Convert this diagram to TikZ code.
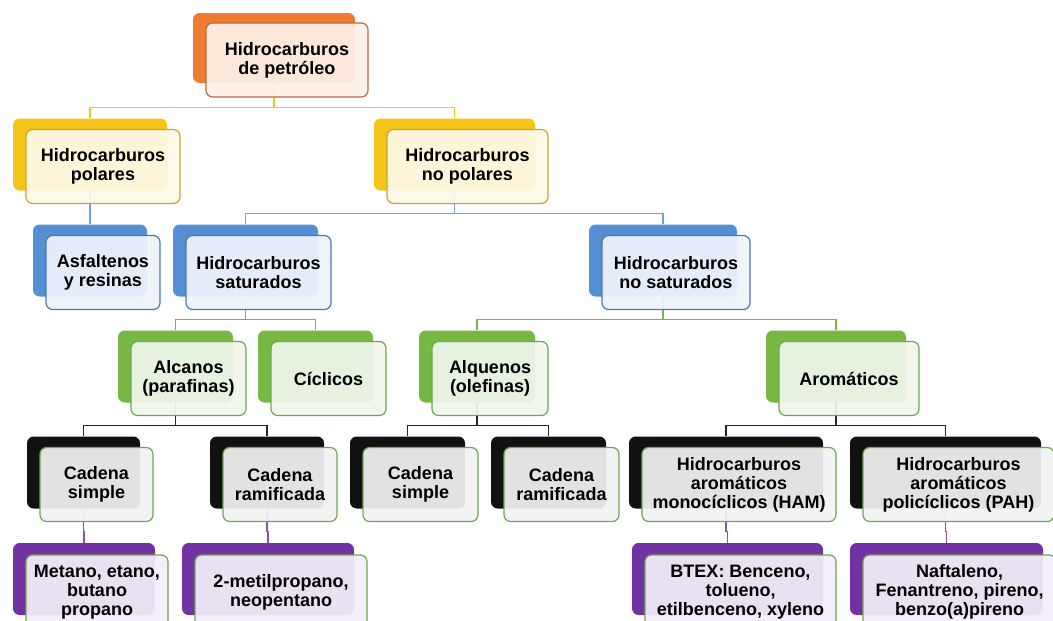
\documentclass[tikz,border=0pt]{standalone}
\usepackage{fontspec}
\setmainfont{Liberation Sans}
\usepackage{xcolor}
\usepackage{tikz}
\usetikzlibrary{positioning,calc,backgrounds}

\definecolor{naranja}{HTML}{EF7D31}
\definecolor{naranjaB}{HTML}{B56C3E}
\definecolor{naranjaC}{HTML}{FDF0E8}
\definecolor{oro}{HTML}{F6C51A}
\definecolor{oroB}{HTML}{C9A335}
\definecolor{oroC}{HTML}{FEF9E6}
\definecolor{azul}{HTML}{5690D4}
\definecolor{azulB}{HTML}{4A79AE}
\definecolor{azulC}{HTML}{EEF4FB}
\definecolor{verde}{HTML}{77B845}
\definecolor{verdeB}{HTML}{6CA94E}
\definecolor{verdeC}{HTML}{F0F6EB}
\definecolor{negro}{HTML}{111111}
\definecolor{grisC}{HTML}{F2F2F2}
\definecolor{morado}{HTML}{7332A4}
\definecolor{moradoC}{HTML}{F3EEF7}

\begin{document}
\begin{tikzpicture}[x=0.75pt, y=-0.75pt,
  bk/.style={rounded corners=5pt, minimum height=54pt, inner sep=0pt},
  fr/.style={rounded corners=5pt, minimum height=55.5pt, inner sep=2pt, draw,
             line width=0.9pt, fill opacity=0.93, text opacity=1, align=center,
             font=\fontsize{13.5}{14.25}\selectfont\bfseries},
  bO/.style={bk, fill=naranja},  fO/.style={fr, draw=naranjaB, fill=naranjaC},
  bY/.style={bk, fill=oro},      fY/.style={fr, draw=oroB, fill=oroC},
  bB/.style={bk, fill=azul},     fB/.style={fr, draw=azulB, fill=azulC},
  bG/.style={bk, fill=verde},    fG/.style={fr, draw=verdeB, fill=verdeC},
  bK/.style={bk, fill=negro},    fK/.style={fr, draw=verdeB, fill=grisC},
  bP/.style={bk, fill=morado},   fP/.style={fr, draw=verdeB, fill=moradoC},
  ln/.style={line width=0.8pt},
]
\clip (0,0) rectangle (1053,621);

% raiz
\node[bO, minimum width=121.5pt, minimum height=52.5pt] (HP) at (274,48) {};
\node[fO, minimum width=121.5pt] (HPt) at ($(HP)+(13,12)$) {Hidrocarburos\\de petróleo};

% nivel 1
\node[bY, minimum width=115.5pt] (HPO) at (90,154.5) {};
\node[fY, minimum width=115.5pt] (HPOt) at ($(HPO)+(13,12)$) {Hidrocarburos\\polares};
\node[bY, minimum width=120.75pt] (HNP) at (454.5,154.5) {};
\node[fY, minimum width=120.75pt] (HNPt) at ($(HNP)+(13,12)$) {Hidrocarburos\\no polares};

% nivel 2
\node[bB, minimum width=85.5pt] (AR) at (90,260.5) {};
\node[fB, minimum width=85.5pt] (ARt) at ($(AR)+(13,12)$) {Asfaltenos\\y resinas};
\node[bB, minimum width=108.75pt] (HS) at (245.5,260.5) {};
\node[fB, minimum width=108.75pt] (HSt) at ($(HS)+(13,12)$) {Hidrocarburos\\saturados};
\node[bB, minimum width=111pt] (HNS) at (663,260.5) {};
\node[fB, minimum width=111pt] (HNSt) at ($(HNS)+(13,12)$) {Hidrocarburos\\no saturados};

% nivel 3
\node[bG, minimum width=86.25pt] (ALC) at (175.5,366.5) {};
\node[fG, minimum width=86.25pt] (ALCt) at ($(ALC)+(13,12)$) {Alcanos\\(parafinas)};
\node[bG, minimum width=86.25pt] (CIC) at (315.5,366.5) {};
\node[fG, minimum width=86.25pt] (CICt) at ($(CIC)+(13,12)$) {Cíclicos};
\node[bG, minimum width=87pt] (ALQ) at (477,366.5) {};
\node[fG, minimum width=87pt] (ALQt) at ($(ALQ)+(13,12)$) {Alquenos\\(olefinas)};
\node[bG, minimum width=105pt] (ARO) at (836,366.5) {};
\node[fG, minimum width=105pt] (AROt) at ($(ARO)+(13,12)$) {Aromáticos};

% nivel 4
\node[bK, minimum width=84.75pt] (CS1) at (83.5,472.5) {};
\node[fK, minimum width=84.75pt] (CS1t) at ($(CS1)+(13,12)$) {Cadena\\simple};
\node[bK, minimum width=85.5pt] (CR1) at (267,472.5) {};
\node[fK, minimum width=85.5pt] (CR1t) at ($(CR1)+(13,12)$) {Cadena\\ramificada};
\node[bK, minimum width=86.25pt] (CS2) at (407.5,472.5) {};
\node[fK, minimum width=86.25pt] (CS2t) at ($(CS2)+(13,12)$) {Cadena\\simple};
\node[bK, minimum width=86.25pt] (CR2) at (548.5,472.5) {};
\node[fK, minimum width=86.25pt] (CR2t) at ($(CR2)+(13,12)$) {Cadena\\ramificada};
\node[bK, minimum width=145.5pt] (HAM) at (726,472.5) {};
\node[fK, minimum width=145.5pt] (HAMt) at ($(HAM)+(13,12)$) {Hidrocarburos\\aromáticos\\monocíclicos (HAM)};
\node[bK, minimum width=143.25pt] (PAH) at (945.5,472.5) {};
\node[fK, minimum width=143.25pt] (PAHt) at ($(PAH)+(13,12)$) {Hidrocarburos\\aromáticos\\policíclicos (PAH)};

% nivel 5
\node[bP, minimum width=106.5pt] (MET) at (84,579) {};
\node[fP, minimum width=106.5pt] (METt) at ($(MET)+(13,13)$) {Metano, etano,\\butano\\propano};
\node[bP, minimum width=129pt] (MTP) at (268,579) {};
\node[fP, minimum width=129pt] (MTPt) at ($(MTP)+(13,13)$) {2-metilpropano,\\neopentano};
\node[bP, minimum width=143.25pt] (BTEX) at (727.5,579) {};
\node[fP, minimum width=143.25pt] (BTEXt) at ($(BTEX)+(13,13)$) {BTEX: Benceno,\\tolueno,\\etilbenceno, xyleno};
\node[bP, minimum width=144.75pt] (NAF) at (946.5,579) {};
\node[fP, minimum width=144.75pt] (NAFt) at ($(NAF)+(13,13)$) {Naftaleno,\\Fenantreno, pireno,\\benzo(a)pireno};

% conectores
\begin{scope}[on background layer]
\foreach \c in {HPO,HNP} \draw[ln, oro] (\c.north) -- ++(0,-11) -| (HP.south);
\draw[ln, azul!85] (AR.north) -- ++(0,-11) -| (HPO.south);
\foreach \c in {HS,HNS} \draw[ln, azul!85] (\c.north) -- ++(0,-11) -| (HNP.south);
\foreach \c in {ALC,CIC} \draw[ln, verde] (\c.north) -- ++(0,-11) -| (HS.south);
\foreach \c in {ALQ,ARO} \draw[ln, verde] (\c.north) -- ++(0,-11) -| (HNS.south);
\foreach \c in {CS1,CR1} \draw[ln, black!85] (\c.north) -- ++(0,-11) -| (ALC.south);
\foreach \c in {CS2,CR2} \draw[ln, black!85] (\c.north) -- ++(0,-11) -| (ALQ.south);
\foreach \c in {HAM,PAH} \draw[ln, black!85] (\c.north) -- ++(0,-11) -| (ARO.south);
\foreach \c/\p in {MET/CS1,MTP/CR1,BTEX/HAM,NAF/PAH}
  \draw[ln, morado!85] (\c.north) -- ++(0,-11) -| (\p.south);
\end{scope}
\end{tikzpicture}
\end{document}
